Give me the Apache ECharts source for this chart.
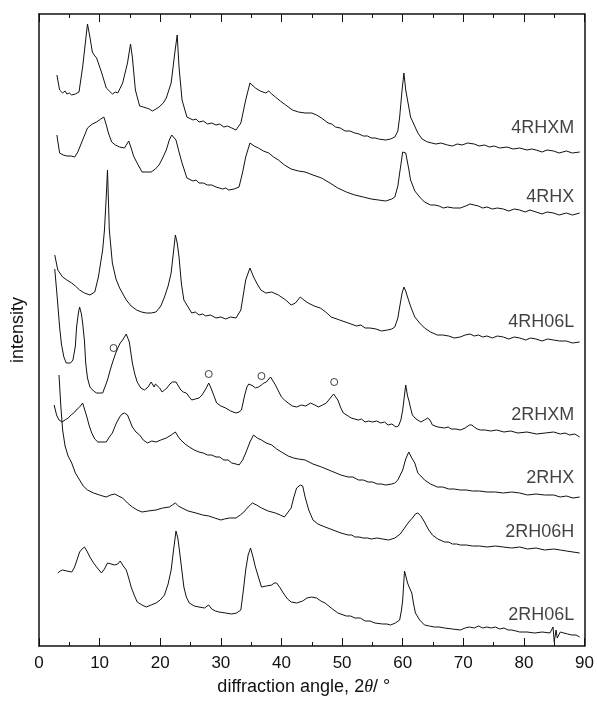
<!DOCTYPE html>
<html>
<head>
<meta charset="utf-8">
<script src="https://cdn.jsdelivr.net/npm/echarts@6/dist/echarts.min.js"></script>
<style>
  html, body { margin: 0; padding: 0; background: #fff; }
  #chart { width: 597px; height: 701px; }
</style>
</head>
<body>
<div id="chart"></div>
<script>
// XRD patterns, [2theta, stacked intensity (a.u.)]
const rhxm4 = [[2.95,571],[3.4,556],[3.9,553],[4.3,555],[4.6,552],[5.0,553],[5.4,551],[6.0,552],[6.6,554],[7.2,579],[7.7,606],[8.0,622],[8.4,609],[8.8,594],[9.1,591],[9.5,588],[10.3,574],[11.1,558],[11.6,555],[12.1,552],[12.6,554],[13.0,553],[13.8,563],[14.6,583],[15.1,602],[15.4,589],[15.9,556],[16.6,540],[17.2,539],[17.7,538],[18.2,537],[18.7,535],[19.3,537],[19.8,539],[20.5,543],[21.0,548],[21.8,563],[22.4,593],[22.8,611],[23.1,579],[23.6,546],[24.4,529],[25.4,526],[25.9,527],[26.4,524],[27.1,525],[27.8,522],[28.5,523],[29.2,521],[29.8,522],[30.5,519],[31.1,520],[31.8,518],[32.5,516],[33.3,523],[34.1,546],[34.8,563],[35.7,558],[36.5,555],[37.4,553],[37.9,555],[38.4,552],[39.0,549],[39.8,545],[40.7,541],[41.8,536],[42.8,534],[43.9,533],[45.0,533],[45.8,531],[46.6,528],[47.7,523],[48.3,522],[48.9,519],[49.7,518],[50.5,515],[51.3,515],[52.1,513],[52.8,512],[53.5,510],[54.2,510],[54.8,508],[55.5,508],[56.0,507],[57.2,506],[58.0,507],[58.7,509],[59.2,515],[59.5,529],[59.9,556],[60.2,573],[60.5,556],[61.3,529],[62.5,513],[63.2,507],[64.1,504],[64.8,503],[65.5,502],[66.3,503],[67.4,501],[68.2,500],[69.0,502],[69.8,501],[70.7,503],[71.8,502],[72.6,500],[73.5,501],[74.3,499],[75.1,500],[76.0,498],[77.2,499],[78.2,497],[79.3,498],[80.5,496],[81.3,497],[82.0,496],[83.0,494],[83.8,496],[84.9,495],[85.8,493],[87.0,495],[88.0,493],[89.2,494]];
const rhx4 = [[2.95,511],[3.4,493],[4.0,491],[4.6,490],[5.3,490],[5.9,489],[6.4,494],[7.2,506],[8.0,518],[8.8,522],[9.5,524],[10.2,527],[10.7,529],[11.1,521],[11.5,512],[12.0,504],[12.6,501],[13.3,499],[14.1,498],[14.5,502],[14.8,505],[15.2,498],[15.6,490],[16.1,484],[17.0,474],[17.8,474],[18.5,474],[19.2,477],[19.8,481],[20.4,488],[21.0,496],[21.5,506],[21.9,511],[22.6,506],[23.1,494],[23.6,483],[24.4,468],[25.4,465],[25.9,466],[26.4,463],[27.1,463],[27.8,461],[28.5,461],[29.2,459],[30.3,457],[30.8,458],[31.3,456],[32.2,457],[33.0,459],[33.6,474],[34.1,489],[34.8,503],[35.5,500],[36.2,498],[37.0,495],[37.9,493],[38.7,489],[39.5,486],[40.5,481],[41.6,477],[42.8,475],[43.9,474],[45.2,471],[46.6,468],[48.0,463],[49.3,458],[50.7,454],[52.1,451],[53.5,449],[54.8,447],[56.0,446],[57.2,445],[58.2,447],[58.7,449],[59.2,460],[59.5,473],[60.0,494],[60.5,493],[61.0,477],[61.3,466],[62.0,455],[62.8,449],[63.6,444],[64.6,441],[65.3,441],[66.0,440],[66.7,438],[67.4,439],[68.4,438],[69.5,438],[70.4,440],[71.1,442],[71.8,441],[72.5,440],[73.2,438],[73.9,439],[74.8,437],[75.6,438],[76.6,437],[77.5,435],[78.4,437],[79.3,436],[80.2,434],[81.0,436],[82.0,434],[83.0,432],[83.8,434],[84.9,433],[85.8,431],[87.0,433],[88.0,431],[89.2,433]];
const rh06l4 = [[2.6,391],[3.1,376],[3.9,369],[4.6,366],[5.4,363],[6.0,360],[6.7,356],[7.5,353],[8.4,351],[9.2,354],[9.8,369],[10.5,396],[10.8,416],[11.1,450],[11.3,476],[11.6,416],[12.1,383],[12.7,367],[13.3,358],[14.4,346],[15.2,340],[16.1,336],[16.9,334],[17.7,333],[18.5,333],[19.3,334],[20.1,340],[20.7,349],[21.3,360],[21.8,373],[22.2,395],[22.5,411],[22.8,403],[23.1,389],[23.5,362],[23.9,346],[25.2,333],[25.8,334],[26.4,331],[27.0,332],[27.5,330],[28.3,331],[29.2,328],[30.0,329],[30.8,327],[31.6,329],[32.5,328],[33.3,336],[34.1,366],[34.8,378],[35.4,369],[36.0,362],[36.6,356],[37.4,353],[38.4,354],[39.5,351],[40.7,346],[41.6,341],[42.3,343],[43.1,349],[43.7,346],[44.4,343],[45.4,340],[46.4,338],[47.3,334],[48.2,329],[49.6,326],[51.0,323],[52.4,320],[53.1,321],[53.8,318],[54.6,318],[55.6,317],[56.5,315],[57.5,316],[58.2,317],[58.7,319],[59.2,328],[59.5,339],[59.9,353],[60.2,359],[60.5,355],[60.8,349],[61.4,338],[62.0,329],[62.8,323],[63.6,318],[64.6,314],[65.7,311],[66.6,311],[67.6,310],[68.5,308],[69.5,309],[70.3,311],[71.1,312],[71.8,310],[72.5,311],[73.2,309],[73.9,310],[74.8,308],[75.6,310],[76.6,309],[77.5,307],[78.4,309],[79.3,308],[80.3,306],[81.1,308],[82.0,307],[83.0,305],[83.9,307],[84.9,306],[85.9,305],[87.0,305],[88.0,303],[89.2,304]];
const rhxm2 = [[2.6,377],[3.0,349],[3.4,319],[3.7,302],[4.1,289],[4.5,283],[4.8,281],[5.2,283],[5.6,286],[6.0,300],[6.2,319],[6.5,333],[6.7,339],[7.0,332],[7.2,323],[7.5,305],[7.7,283],[8.0,268],[8.4,259],[9.0,255],[9.5,253],[10.0,253],[10.5,253],[11.0,261],[11.3,266],[11.7,275],[12.1,283],[12.6,292],[13.0,298],[13.4,303],[13.8,306],[14.4,312],[14.9,304],[15.4,283],[15.8,272],[16.2,264],[16.8,258],[17.4,256],[18.0,259],[18.5,264],[18.8,262],[19.0,259],[19.2,262],[19.5,263],[19.9,258],[20.3,254],[20.7,256],[21.1,258],[21.6,262],[22.0,264],[22.6,264],[23.0,260],[23.4,256],[23.8,254],[24.3,253],[24.8,249],[25.2,246],[25.8,247],[26.4,248],[26.9,251],[27.2,253],[27.6,258],[28.0,263],[28.3,259],[28.5,256],[29.0,248],[29.3,243],[30.0,240],[30.8,238],[31.6,235],[32.5,233],[33.0,234],[33.4,236],[33.9,250],[34.3,259],[34.6,262],[34.9,264],[35.3,260],[35.7,258],[36.2,259],[36.7,261],[37.1,263],[37.5,264],[38.2,269],[38.6,265],[39.0,261],[39.5,255],[40.0,249],[40.5,246],[41.1,243],[41.8,240],[42.5,239],[43.3,241],[44.0,240],[44.8,243],[45.5,241],[46.1,239],[46.8,241],[47.4,243],[47.8,246],[48.2,249],[48.6,252],[48.9,253],[49.3,246],[49.8,238],[50.2,233],[51.0,230],[51.5,228],[52.7,226],[53.2,227],[53.8,224],[54.4,225],[55.0,224],[55.7,225],[56.4,223],[57.0,224],[57.6,221],[58.2,222],[58.9,219],[59.3,220],[59.7,226],[60.0,236],[60.2,246],[60.5,261],[60.8,250],[61.0,246],[61.3,238],[61.6,231],[62.2,227],[63.0,224],[63.6,226],[64.1,228],[64.5,226],[64.9,221],[65.8,219],[66.9,218],[67.5,219],[68.0,217],[68.8,217],[69.5,216],[70.3,218],[71.0,221],[71.4,221],[71.8,219],[72.3,217],[72.8,216],[73.6,216],[74.5,215],[75.5,216],[76.7,214],[77.8,215],[79.0,213],[80.5,214],[82.1,212],[83.5,213],[84.9,214],[86.0,212],[86.8,213],[87.5,211],[88.4,212],[89.2,209]];
const rhx2 = [[2.5,241],[2.9,231],[3.3,226],[3.8,224],[4.3,226],[4.8,228],[5.3,231],[5.9,234],[6.3,237],[6.7,239],[7.2,243],[7.5,237],[7.9,229],[8.3,220],[8.7,213],[9.2,207],[9.7,204],[10.4,204],[11.1,204],[11.6,209],[12.1,213],[12.7,222],[13.3,229],[13.7,232],[14.1,233],[14.6,231],[15.0,225],[15.4,219],[16.0,214],[16.6,211],[17.2,206],[17.9,203],[18.6,205],[19.3,204],[20.1,206],[21.0,208],[21.8,211],[22.5,214],[23.0,209],[23.4,206],[24.1,202],[24.8,199],[25.6,196],[26.4,194],[27.1,193],[27.8,191],[28.5,191],[29.2,189],[29.8,189],[30.5,186],[31.2,186],[31.8,183],[32.5,182],[33.0,181],[33.6,186],[34.1,193],[34.8,204],[35.4,211],[36.0,208],[36.7,206],[37.5,203],[38.4,201],[39.2,197],[40.0,194],[41.1,190],[42.0,188],[42.8,187],[43.9,186],[45.2,182],[46.6,179],[48.2,175],[49.8,171],[51.0,169],[51.8,169],[52.7,166],[53.5,166],[54.3,164],[55.0,164],[55.8,162],[56.5,162],[57.2,161],[58.2,162],[58.7,163],[59.2,166],[59.6,171],[60.0,176],[60.5,187],[61.0,194],[61.5,188],[62.0,183],[62.5,173],[63.0,170],[63.6,166],[64.6,162],[65.7,159],[66.6,159],[67.6,157],[68.5,157],[69.5,156],[70.5,156],[71.5,155],[72.7,155],[73.9,154],[75.3,154],[76.6,153],[78.0,154],[79.3,153],[80.6,151],[82.0,152],[83.4,151],[84.9,151],[86.0,149],[87.0,150],[88.1,148],[89.2,149]];
const rh06h2 = [[3.3,271],[3.6,240],[3.9,216],[4.3,200],[4.8,190],[5.4,183],[6.0,173],[6.7,166],[7.3,160],[8.0,156],[9.0,153],[10.0,151],[10.5,150],[11.1,149],[11.8,151],[12.5,152],[13.1,150],[13.8,148],[14.6,143],[15.4,139],[16.2,136],[17.0,134],[18.0,135],[19.3,136],[20.4,138],[21.5,139],[22.0,141],[22.5,143],[23.0,140],[23.6,138],[24.6,135],[25.9,133],[27.0,131],[28.0,130],[29.0,128],[30.0,126],[30.6,127],[31.4,128],[32.5,128],[33.2,131],[33.8,134],[34.5,139],[35.2,143],[35.9,141],[36.7,138],[37.8,135],[39.0,133],[39.8,131],[40.5,129],[41.1,134],[41.6,138],[42.0,148],[42.5,158],[43.1,161],[43.5,160],[43.9,149],[44.5,136],[45.2,126],[46.0,122],[47.2,119],[48.5,116],[49.8,113],[51.0,111],[51.6,111],[52.1,109],[52.8,109],[53.5,108],[54.2,108],[54.8,107],[55.8,108],[56.7,107],[57.7,106],[58.7,108],[59.6,112],[60.3,118],[61.0,124],[61.6,128],[62.1,132],[62.5,133],[63.0,130],[63.6,124],[64.2,117],[64.9,111],[65.8,107],[66.9,104],[67.6,104],[68.2,102],[68.9,102],[69.5,101],[70.5,101],[71.5,100],[72.7,100],[73.9,99],[75.3,100],[76.6,99],[78.0,98],[79.3,99],[80.6,97],[82.0,98],[83.4,96],[84.9,97],[86.0,96],[87.0,95],[88.1,94],[89.2,93]];
const rh06l2 = [[3.1,73],[3.5,75],[3.9,76],[4.6,75],[5.4,74],[5.8,78],[6.1,83],[6.7,94],[7.1,97],[7.5,99],[7.9,95],[8.4,89],[9.0,83],[9.5,79],[10.3,73],[10.8,77],[11.3,83],[11.9,82],[12.5,81],[13.0,82],[13.4,85],[13.9,80],[14.4,76],[14.8,68],[15.2,59],[15.7,51],[16.2,44],[17.0,41],[17.7,39],[18.5,41],[19.3,43],[20.0,46],[20.7,51],[21.3,62],[21.8,76],[22.2,96],[22.6,115],[22.9,108],[23.1,99],[23.5,79],[23.9,59],[24.3,49],[24.8,43],[25.6,40],[26.4,39],[27.3,38],[28.0,41],[28.5,37],[29.1,35],[29.7,34],[30.8,33],[31.8,32],[32.6,33],[33.3,36],[33.7,55],[34.1,76],[34.5,91],[34.9,98],[35.3,89],[35.7,79],[36.2,69],[36.7,59],[37.5,60],[38.4,61],[38.8,63],[39.2,63],[39.8,58],[40.3,53],[41.0,47],[41.6,44],[42.5,43],[43.5,45],[44.2,48],[45.0,49],[45.8,48],[46.5,45],[47.2,43],[48.2,38],[49.3,33],[50.7,30],[51.4,30],[52.1,28],[53.0,28],[53.8,25],[54.6,25],[55.4,23],[56.7,22],[57.4,22],[58.0,21],[58.8,23],[59.5,26],[59.8,36],[60.0,46],[60.3,75],[60.6,68],[60.8,63],[61.2,57],[61.5,53],[61.8,42],[62.1,33],[62.8,26],[63.6,21],[64.4,20],[65.2,19],[66.0,19],[66.9,18],[68.2,17],[69.5,16],[70.3,18],[71.0,19],[71.8,18],[72.5,20],[73.2,18],[73.9,19],[74.6,18],[75.3,19],[76.0,17],[76.7,18],[77.4,16],[78.0,16],[78.7,15],[79.3,14],[80.5,14],[81.8,13],[83.0,14],[84.3,13],[84.8,19],[85.0,4],[85.3,16],[85.5,8],[85.7,9],[86.0,14],[86.6,13],[87.2,12],[87.9,11],[88.6,11],[89.2,9]];

// open circles marking the extra phase in 2RHXM
const circleMarks = [[12.3,298],[28.0,272],[36.7,270],[48.7,264]];

// sample names, and where they sit (stacked intensity) at the right edge
const sampleNames = ['4RHXM','4RHX','4RH06L','2RHXM','2RHX','2RH06H','2RH06L'];
const sampleLabelY = [518,449,324,231,168,114,31];
const labelX = 88.3;

const traces = [rhxm4, rhx4, rh06l4, rhxm2, rhx2, rh06h2, rh06l2];

const FONT = '"Liberation Sans", Arial, Helvetica, sans-serif';
const chart = echarts.init(document.getElementById('chart'));

const xCommon = {
  type: 'value',
  min: 0,
  max: 90,
  interval: 10,
  axisLine: { show: true, onZero: false, lineStyle: { color: '#111', width: 1.5 } },
  axisTick: { show: true, inside: true, length: 8, lineStyle: { color: '#111', width: 1 } },
  minorTick: { show: true, splitNumber: 2, length: 4, lineStyle: { color: '#111', width: 1 } },
  splitLine: { show: false },
  minorSplitLine: { show: false }
};

const yCommon = {
  type: 'value',
  min: 0,
  max: 632,
  axisLine: { show: true, onZero: false, lineStyle: { color: '#111', width: 1.5 } },
  axisTick: { show: false },
  axisLabel: { show: false },
  splitLine: { show: false }
};

const series = traces.map((d, i) => ({
  name: sampleNames[i],
  type: 'line',
  data: d,
  showSymbol: false,
  silent: true,
  lineStyle: { color: '#111', width: 1 },
  z: 2
}));

series.push({
  type: 'scatter',
  data: circleMarks,
  symbol: 'circle',
  symbolSize: 7,
  itemStyle: { color: '#fff', borderColor: '#111', borderWidth: 1 },
  z: 3
});

series.push({
  type: 'scatter',
  data: sampleNames.map((n, i) => ({ name: n, value: [labelX, sampleLabelY[i]] })),
  symbolSize: 0,
  label: {
    show: true,
    position: 'left',
    distance: 0,
    formatter: p => p.name,
    color: '#111',
    fontSize: 18,
    fontFamily: FONT
  },
  z: 4
});

chart.setOption({
  animation: false,
  backgroundColor: '#fff',
  grid: { left: 39, right: 9, top: 14, bottom: 55 },
  xAxis: [
    Object.assign({}, xCommon, {
      position: 'bottom',
      axisLabel: { color: '#111', fontSize: 17, fontFamily: FONT, margin: 9 },
      name: '{t|diffraction angle, 2}{i|θ}{t|/ °}',
      nameLocation: 'middle',
      nameGap: 32,
      nameTextStyle: {
        rich: {
          t: { fontSize: 18, fontFamily: FONT, color: '#111' },
          i: { fontSize: 18, fontFamily: '"Liberation Serif", serif', fontStyle: 'italic', color: '#111' }
        },
        padding: [0, 16, 0, 0]
      }
    }),
    Object.assign({}, xCommon, {
      position: 'top',
      axisLabel: { show: false }
    })
  ],
  yAxis: [
    Object.assign({}, yCommon, {
      position: 'left',
      name: 'intensity',
      nameLocation: 'middle',
      nameGap: 12,
      nameTextStyle: { color: '#111', fontSize: 18, fontFamily: FONT }
    }),
    Object.assign({}, yCommon, { position: 'right' })
  ],
  series: series
});
</script>
</body>
</html>
